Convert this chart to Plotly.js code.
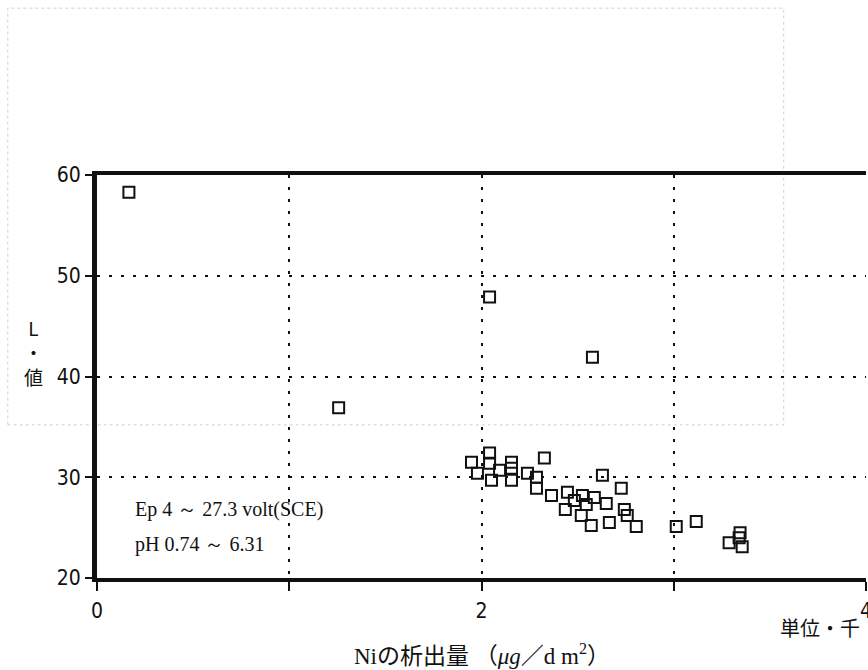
<!DOCTYPE html>
<html>
<head>
<meta charset="utf-8">
<script src="https://cdn.plot.ly/plotly-3.0.1.min.js"></script>
<style>
  html, body { margin: 0; padding: 0; background: #fff; }
  #chart { width: 868px; height: 670px; }
</style>
</head>
<body>
<div id="chart"></div>
<script>
// Ni deposition amount (thousands, µg/dm²) against L value
const niDeposit = [
  0.166, 1.257, 2.042, 2.577,
  1.948, 1.979, 2.042, 2.042, 2.052, 2.094,
  2.156, 2.156, 2.156, 2.239, 2.286, 2.286, 2.327,
  2.364, 2.447, 2.436, 2.483, 2.525, 2.519, 2.545, 2.571, 2.587,
  2.629, 2.649, 2.665, 2.727, 2.743, 2.758, 2.805,
  3.013, 3.117, 3.288, 3.345, 3.340, 3.356
];
const lValue = [
  58.3, 36.9, 47.9, 41.9,
  31.5, 30.4, 32.4, 31.4, 29.7, 30.7,
  31.5, 30.9, 29.7, 30.4, 30.0, 28.9, 31.9,
  28.2, 28.5, 26.8, 27.7, 28.2, 26.2, 27.3, 25.2, 28.0,
  30.2, 27.4, 25.5, 28.9, 26.8, 26.2, 25.1,
  25.1, 25.6, 23.5, 24.5, 24.0, 23.1
];

const xLabelVals = [0, 2, 4];
const xMinorVals = [1, 3];
const yTickVals = [20, 30, 40, 50, 60];

const conditionLines = ['Ep 4 ～ 27.3 volt(SCE)', 'pH 0.74 ～ 6.31'];

const serif = '"Liberation Serif", "DejaVu Serif", serif';
const cjk = '"Noto Sans CJK JP", "Noto Sans", sans-serif';
const narrow = '"Liberation Sans Narrow", "DejaVu Sans Condensed", "Liberation Sans", sans-serif';
const dotted = '3px,9px';

const trace = {
  x: niDeposit,
  y: lValue,
  type: 'scatter',
  mode: 'markers',
  marker: {
    symbol: 'square-open',
    size: 11,
    color: '#111',
    line: { width: 2, color: '#111' }
  },
  hoverinfo: 'x+y'
};

const layout = {
  width: 868,
  height: 670,
  margin: { l: 97, r: 2, t: 175, b: 92 },
  paper_bgcolor: '#fff',
  plot_bgcolor: '#fff',
  showlegend: false,
  font: { family: narrow, size: 21, color: '#111' },
  xaxis: {
    range: [0, 4],
    tickmode: 'array',
    tickvals: xLabelVals,
    ticks: 'outside',
    ticklen: 9,
    tickwidth: 2,
    tickcolor: '#111',
    ticklabelstandoff: 2,
    ticklabeloverflow: 'allow',
    showline: true,
    linewidth: 4,
    linecolor: '#111',
    mirror: true,
    showgrid: true,
    gridcolor: '#111',
    gridwidth: 2,
    griddash: dotted,
    zeroline: false,
    minor: {
      tickmode: 'array',
      tickvals: xMinorVals,
      ticks: 'outside',
      ticklen: 9,
      tickwidth: 2,
      tickcolor: '#111',
      showgrid: true,
      gridcolor: '#111',
      gridwidth: 2,
      griddash: dotted
    },
    tickfont: { size: 21, family: narrow }
  },
  yaxis: {
    range: [20, 60],
    tickvals: yTickVals,
    ticks: 'outside',
    ticklen: 7,
    tickwidth: 2,
    tickcolor: '#111',
    showline: true,
    linewidth: 5,
    linecolor: '#111',
    showgrid: true,
    gridcolor: '#111',
    gridwidth: 2,
    griddash: dotted,
    zeroline: false,
    tickfont: { size: 21, family: narrow }
  },
  shapes: [
    // faint show-through frame behind the chart
    {
      type: 'rect', xref: 'paper', yref: 'paper',
      x0: -0.116, x1: 0.893, y0: 0.38, y1: 1.414,
      line: { color: '#d0d0d0', width: 1, dash: 'dot' },
      layer: 'below'
    }
  ],
  annotations: [
    {
      text: conditionLines[0],
      xref: 'paper', yref: 'paper', x: 0.047, y: 0.169,
      xanchor: 'left', yanchor: 'middle', showarrow: false,
      font: { family: serif, size: 20, color: '#111' }
    },
    {
      text: conditionLines[1],
      xref: 'paper', yref: 'paper', x: 0.047, y: 0.082,
      xanchor: 'left', yanchor: 'middle', showarrow: false,
      font: { family: serif, size: 20, color: '#111' }
    },
    {
      text: 'L<br>・<br>値',
      xref: 'paper', yref: 'paper', x: -0.083, y: 0.561,
      xanchor: 'center', yanchor: 'middle', showarrow: false,
      align: 'center',
      font: { family: cjk, size: 19, color: '#111' }
    },
    {
      text: '単位・千',
      xref: 'paper', yref: 'paper', x: 0.94, y: -0.124,
      xanchor: 'center', yanchor: 'middle', showarrow: false,
      font: { family: cjk, size: 20, color: '#111' }
    },
    {
      text: 'Niの析出量 （<i>μg</i>／d m<sup>2</sup>）',
      xref: 'paper', yref: 'paper', x: 0.5, y: -0.191,
      xanchor: 'center', yanchor: 'middle', showarrow: false,
      font: { family: '"Liberation Serif", "Noto Sans CJK JP", serif', size: 23, color: '#111' }
    }
  ]
};

Plotly.newPlot('chart', [trace], layout, { displayModeBar: false, staticPlot: true });
</script>
</body>
</html>
